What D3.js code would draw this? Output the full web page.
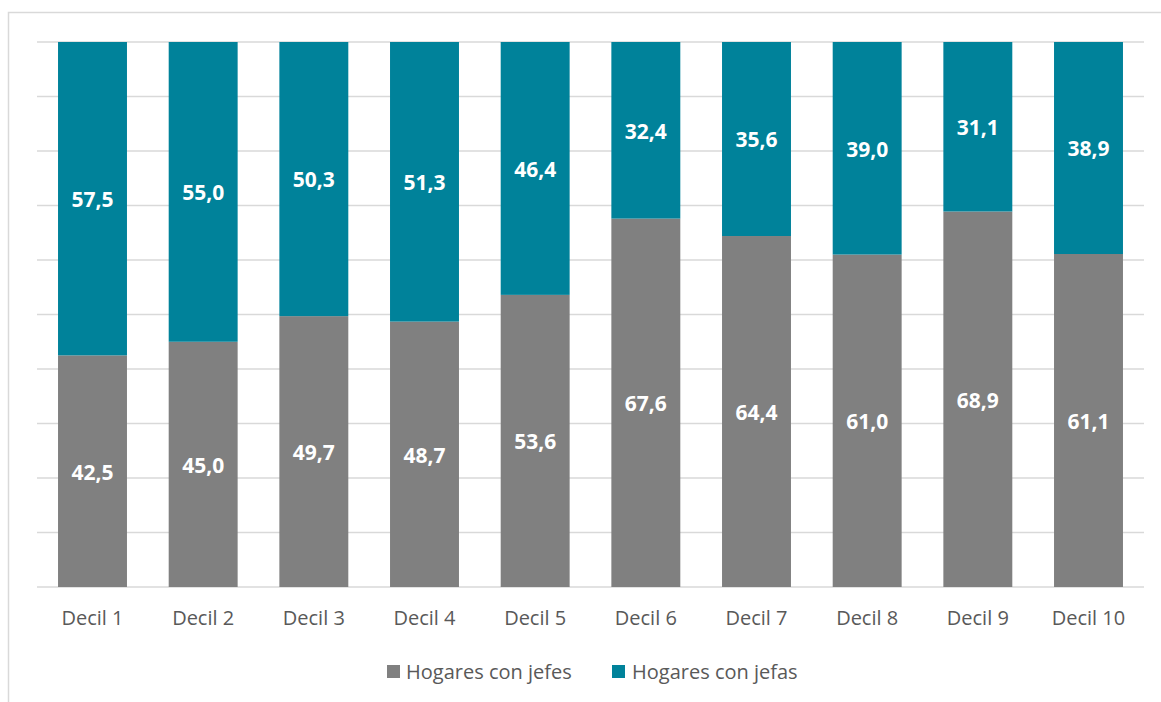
<!DOCTYPE html>
<html>
<head>
<meta charset="utf-8">
<script src="https://cdn.jsdelivr.net/npm/d3@7"></script>
<style>
  body { margin: 0; background: #fff; }
  text { font-family: "Open Sans", "Liberation Sans", sans-serif; }
</style>
</head>
<body>
<div id="chart"></div>
<script>
const categories = ["Decil 1", "Decil 2", "Decil 3", "Decil 4", "Decil 5",
  "Decil 6", "Decil 7", "Decil 8", "Decil 9", "Decil 10"];
const jefes = [42.5, 45.0, 49.7, 48.7, 53.6, 67.6, 64.4, 61.0, 68.9, 61.1];
const jefas = [57.5, 55.0, 50.3, 51.3, 46.4, 32.4, 35.6, 39.0, 31.1, 38.9];
const seriesNames = ["Hogares con jefes", "Hogares con jefas"];
const colors = ["#808080", "#00829a"];
const yTicks = [0, 10, 20, 30, 40, 50, 60, 70, 80, 90, 100];

const svgWidth = 1161;
const svgHeight = 702;
const margin = { top: 42, right: 17, bottom: 115, left: 37 };
const width = svgWidth - margin.left - margin.right;
const height = svgHeight - margin.top - margin.bottom;

const svg = d3.select("#chart")
  .append("svg")
  .attr("width", svgWidth)
  .attr("height", svgHeight);

// chart border
svg.append("rect")
  .attr("x", 8.5).attr("y", 12.5)
  .attr("width", 1160).attr("height", 700)
  .attr("fill", "none")
  .attr("stroke", "#d9d9d9")
  .attr("stroke-width", 1.5);

const chart = svg.append("g")
  .attr("transform", `translate(${margin.left},${margin.top})`);

const x = d3.scaleBand().domain(categories).range([0, width]).paddingInner(0.377).paddingOuter(0.19);
const y = d3.scaleLinear().domain([0, 100]).range([height, 0]);

// gridlines
chart.selectAll(".grid")
  .data(yTicks)
  .enter()
  .append("line")
  .attr("x1", 0).attr("x2", width)
  .attr("y1", d => y(d)).attr("y2", d => y(d))
  .attr("stroke", "#d9d9d9")
  .attr("stroke-width", 1.5);

const rows = categories.map((c, i) => ({ cat: c, jefes: jefes[i], jefas: jefas[i] }));
const stack = d3.stack().keys(["jefes", "jefas"])(rows);

stack.forEach((layer, k) => {
  const g = chart.append("g");
  g.selectAll("rect")
    .data(layer)
    .enter()
    .append("rect")
    .attr("x", d => x(d.data.cat))
    .attr("width", x.bandwidth())
    .attr("y", d => y(d[1]))
    .attr("height", d => y(d[0]) - y(d[1]))
    .attr("fill", colors[k]);
  g.selectAll("text")
    .data(layer)
    .enter()
    .append("text")
    .attr("x", d => x(d.data.cat) + x.bandwidth() / 2)
    .attr("y", d => (y(d[0]) + y(d[1])) / 2 + 1)
    .attr("dy", "0.35em")
    .attr("text-anchor", "middle")
    .attr("fill", "#fff")
    .style("font-size", "21px")
    .style("font-weight", "bold")
    .text(d => d3.format(".1f")(d[1] - d[0]).replace(".", ","));
});

// x axis labels
chart.append("g")
  .selectAll("text")
  .data(categories)
  .enter()
  .append("text")
  .attr("x", d => x(d) + x.bandwidth() / 2)
  .attr("y", height + 31)
  .attr("dy", "0.35em")
  .attr("text-anchor", "middle")
  .attr("fill", "#595959")
  .style("font-size", "20px")
  .text(d => d);

// legend
const legendItems = [{ x: 387, tx: 406 }, { x: 612, tx: 632 }];
const legend = svg.append("g");
seriesNames.forEach((name, i) => {
  legend.append("rect")
    .attr("x", legendItems[i].x).attr("y", 665)
    .attr("width", 13).attr("height", 13)
    .attr("fill", colors[i]);
  legend.append("text")
    .attr("x", legendItems[i].tx).attr("y", 671.5)
    .attr("dy", "0.35em")
    .attr("fill", "#595959")
    .style("font-size", "20px")
    .text(name);
});
</script>
</body>
</html>
